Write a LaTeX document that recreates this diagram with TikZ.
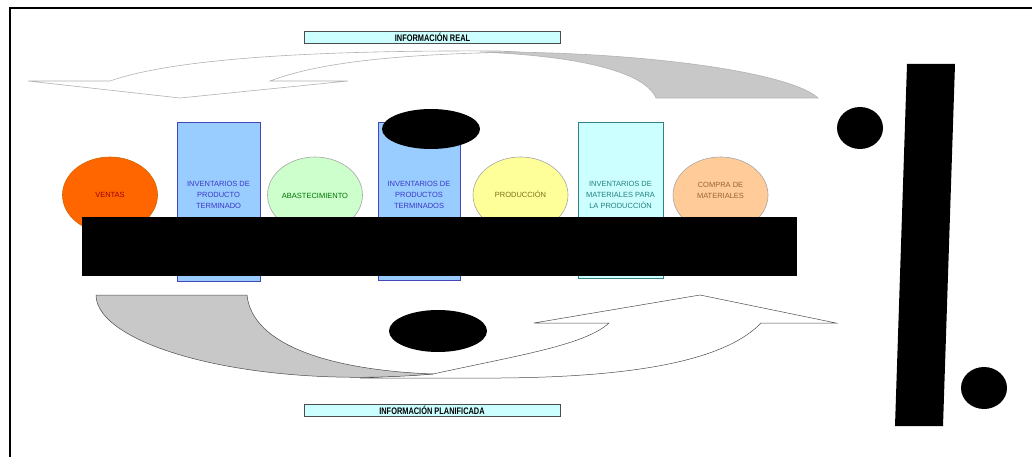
\documentclass[tikz,border=0pt]{standalone}
\usepackage{fontspec}
\setmainfont{Liberation Sans}
\newfontfamily\labelfont[FakeStretch=0.78]{Liberation Sans}
\usetikzlibrary{shapes.geometric}

\definecolor{salesorange}{HTML}{FF6600}
\definecolor{supplygreen}{HTML}{CCFFCC}
\definecolor{prodyellow}{HTML}{FFFF99}
\definecolor{buypeach}{HTML}{FFCC99}
\definecolor{stockblue}{HTML}{99CCFF}
\definecolor{stockcyan}{HTML}{CCFFFF}
\definecolor{infocyan}{HTML}{CCFFFF}
\definecolor{flowgrey}{HTML}{C8C8C8}

\tikzset{
  stageell/.style={ellipse, draw=gray!70, line width=0.6pt,
    minimum width=95pt, minimum height=76pt, inner sep=0pt},
  stockbox/.style={rectangle, line width=0.8pt, minimum width=83pt,
    minimum height=159pt, inner sep=0pt},
  stagetext/.style={font=\fontsize{7.5}{11}\selectfont, align=center, inner sep=0pt},
  infolabel/.style={rectangle, draw=gray!60!black, fill=infocyan, line width=0.6pt,
    minimum width=256pt, minimum height=12pt, inner sep=0pt,
    font=\labelfont\bfseries\fontsize{9.5}{9.5}\selectfont},
  flowback/.style={fill=flowgrey, draw=gray!60!black, line width=0.5pt},
  flowfront/.style={fill=white, draw=gray!60!black, line width=0.5pt},
  topflowback/.style={fill=flowgrey, draw=gray!60, line width=0.6pt},
  topflowfront/.style={fill=white, draw=gray!60, line width=0.6pt},
  blot/.style={fill=black, draw=none}
}

\begin{document}
\begin{tikzpicture}[x=1pt, y=-1pt]
  \useasboundingbox[fill=white] (0,0) rectangle (1032,457);

  % frame edges
  \draw[line width=2.2pt] (10,457) -- (10,8) -- (1032,8);

  % curved flow arrow at the top (real information, pointing left)
  \draw[topflowfront] (28,81) -- (110,81)
    .. controls (170,60) and (300,50) .. (500,51) -- (520,52)
    .. controls (400,54) and (320,62) .. (270,81)
    -- (348,81) -- (180,98) -- cycle;
  \draw[topflowback] (480,52) .. controls (640,51) and (790,72) .. (818,98)
    -- (656,98) .. controls (645,72) and (580,56) .. (480,52) -- cycle;

  % curved flow arrow at the bottom (planned information, pointing up)
  \draw[flowfront] (433,374) .. controls (520,355) and (585,345) .. (609,323)
    -- (534,323) -- (700,295) -- (836,323) -- (761,323)
    .. controls (718,368) and (600,379) .. (470,378) -- (360,378) -- cycle;
  \draw[flowback] (96,295) -- (247,295)
    .. controls (252,345) and (330,370) .. (433,374)
    .. controls (250,390) and (96,345) .. (96,295) -- cycle;

  % information labels
  \node[infolabel] (real) at (432.5,37) {INFORMACIÓN REAL};
  \node[infolabel] (plan) at (432,410) {INFORMACIÓN PLANIFICADA};

  % stock columns
  \node[stockbox, draw=blue!45!gray, fill=stockblue] (stock1) at (218.5,201.5) {};
  \node[stockbox, draw=blue!45!gray, fill=stockblue, minimum width=82pt, minimum height=158pt] (stock2) at (419,201) {};
  \node[stockbox, draw=teal!60!gray, fill=stockcyan, minimum width=85pt, minimum height=156pt] (stock3) at (620.5,200) {};

  % process stages
  \node[stageell, fill=salesorange, draw=orange!80!black] (sales) at (110,195) {};
  \node[stageell, fill=supplygreen] (supply) at (315,195) {};
  \node[stageell, fill=prodyellow] (prod) at (520.5,195) {};
  \node[stageell, fill=buypeach] (buy) at (720.5,195) {};

  % stage texts
  \node[stagetext, text=red!60!black] (salest) at (sales.center) {VENTAS};
  \node[stagetext, text=blue!55!gray] (stock1t) at (218.5,195) {INVENTARIOS DE\\PRODUCTO\\TERMINADO};
  \node[stagetext, text=green!45!black] (supplyt) at (315,196) {ABASTECIMIENTO};
  \node[stagetext, text=blue!55!gray] (stock2t) at (419,195) {INVENTARIOS DE\\PRODUCTOS\\TERMINADOS};
  \node[stagetext, text=olive!80!black] (prodt) at (520.5,194) {PRODUCCIÓN};
  \node[stagetext, text=teal!70!gray] (stock3t) at (620.5,195) {INVENTARIOS DE\\MATERIALES PARA\\LA PRODUCCIÓN};
  \node[stagetext, text=brown!80!black] (buyt) at (720.5,190) {COMPRA DE\\MATERIALES};

  % black blots over the drawing
  \fill[blot] (82,217) rectangle (797,276);
  \fill[blot] (431,129) ellipse [x radius=49, y radius=20];
  \fill[blot] (438,331) ellipse [x radius=49, y radius=21];
  \fill[blot] (860,128) ellipse [x radius=23, y radius=21];
  \fill[blot] (984,388) ellipse [x radius=23, y radius=21];
  \fill[blot] (907,64) -- (955,64) -- (943,426) -- (895,426) -- cycle;
\end{tikzpicture}
\end{document}
